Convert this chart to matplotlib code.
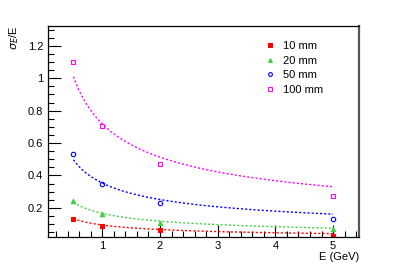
import numpy as np
import matplotlib
matplotlib.use('Agg')
import matplotlib.pyplot as plt
from matplotlib.ticker import MultipleLocator, FixedLocator

plt.rcParams['font.family'] = ['Liberation Sans', 'DejaVu Sans']

energy = [0.5, 1, 2, 5]
labels = ['10 mm', '20 mm', '50 mm', '100 mm']
res_10 = [0.130, 0.091, 0.064, 0.027]
res_20 = [0.243, 0.163, 0.109, 0.069]
res_50 = [0.534, 0.347, 0.229, 0.134]
res_100 = [1.10, 0.703, 0.47, 0.276]
# fit a/sqrt(E) + b
fit_a = [0.096, 0.165, 0.347, 0.703]
fit_b = [-0.002, 0.001, 0.006, 0.016]

colors = ['#ff0000', '#44cc44', '#0000ff', '#ff00ff']
markers = ['s', '^', 'o', 's']
filled = [True, True, False, False]
msizes = [3.0, 3.2, 3.2, 3.2]

fig = plt.figure(figsize=(3.99, 2.70), dpi=100)
ax = fig.add_axes([47.5/399, 1 - 237/270, (359 - 47.5)/399, (237 - 26)/270])

E = np.linspace(0.5, 5, 200)
series = [res_10, res_20, res_50, res_100]
for i, ys in enumerate(series):
    ax.plot(E, fit_a[i] / np.sqrt(E) + fit_b[i], ls=(0, (1.5, 1.5)), color=colors[i], lw=1.0)
    ax.plot(energy, ys, ls='none', marker=markers[i], ms=msizes[i],
            mfc=colors[i] if filled[i] else 'none', mec=colors[i], mew=0.8,
            label=labels[i])

ax.set_xlim(0.05, 5.45)
ax.set_ylim(0.02, 1.323)
ax.xaxis.set_major_locator(FixedLocator([1, 2, 3, 4, 5]))
ax.xaxis.set_minor_locator(MultipleLocator(0.2))
ax.yaxis.set_major_locator(FixedLocator([0.2, 0.4, 0.6, 0.8, 1.0, 1.2]))
ax.yaxis.set_minor_locator(MultipleLocator(0.05))
ax.set_yticklabels(['0.2', '0.4', '0.6', '0.8', '1', '1.2'])
ax.tick_params(which='both', direction='in', top=False, right=False, labelsize=8, color='black')
ax.tick_params(which='major', length=9, width=0.8, pad=3)
ax.tick_params(which='minor', length=4.5, width=0.8)
for s in ['left', 'bottom', 'top']:
    ax.spines[s].set_linewidth(0.9)
ax.spines['right'].set_linewidth(1.6)
ax.spines['right'].set_color('#555555')

fig.text(359/399, 1 - 257/270, 'E (GeV)', ha='right', va='center', fontsize=8)
fig.text(14/399, 1 - 38/270, r'$\sigma_{E}$/E', rotation=90, ha='center', va='center', fontsize=8)

ax.legend(loc='upper left', bbox_to_anchor=(0.685, 0.95), frameon=False, fontsize=8,
          handlelength=0.8, handletextpad=0.8, labelspacing=0.42, borderaxespad=0,
          markerscale=0.85)

fig.savefig('out.png', dpi=100)
